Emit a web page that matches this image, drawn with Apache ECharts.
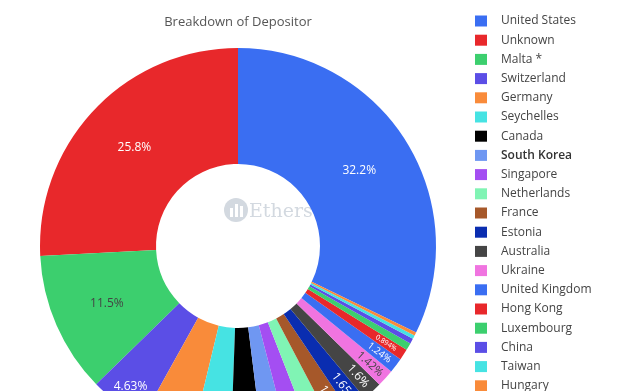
<!DOCTYPE html>
<html><head><meta charset="utf-8">
<script src="https://cdn.jsdelivr.net/npm/echarts@6/dist/echarts.min.js"></script>
<style>html,body{margin:0;padding:0;background:#fff}#c{width:640px;height:391px}</style>
</head><body><div id="c"></div>
<script>
const categories = ['United States','Unknown','Malta *','Switzerland','Germany','Seychelles','Canada','South Korea','Singapore','Netherlands','France','Estonia','Australia','Ukraine','United Kingdom','Hong Kong','Luxembourg','China','Taiwan','Hungary'];
const shares = [32.2,25.8,11.5,4.63,4.3,3.2,2.55,2.1,1.85,1.78,1.7,1.65,1.6,1.42,1.24,0.894,0.6,0.42,0.3,0.266];
const sliceColors = ['#3a6ef2','#e8282b','#3ccf6e','#5b4ee6','#f98b3a','#46e3e3','#000000','#6f97f2','#a44ef2','#80f4b4','#a6582a','#0a2db0','#454545','#f074e0',
                     '#3a6ef2','#e8282b','#3ccf6e','#5b4ee6','#46e3e3','#f98b3a'];
const chartTitle = 'Breakdown of Depositor';
const watermark = 'Etherscan';
const boldLegend = ['South Korea'];

const total = shares.reduce((a,b)=>a+b,0);
const CX=238, CY=246, R0=82, R1=198, LABEL_R=174;
function brightness(hex){
  const n=parseInt(hex.slice(1),16);
  const r=(n>>16)&255,g=(n>>8)&255,b=n&255;
  return (r*299+g*587+b*114)/1000;
}
function pct(v){ return Number((v/total*100).toPrecision(3)) + '%'; }
const colors = categories.map((_,i)=>sliceColors[i%sliceColors.length]);
const textColor = c => brightness(c)>128 ? '#444' : '#fff';
const startAngle = 90 - 360*shares[0]/total;

const mainData = categories.map((name,i)=>({
  name, value: shares[i],
  itemStyle:{color:colors[i]},
  label:{show:i<3, color:textColor(colors[i]), fontSize:12}
}));
const overlayData = categories.map((name,i)=>{
  const arc = shares[i]/total*2*Math.PI*LABEL_R;
  const show = i>=3 && shares[i]>=0.8;
  const radial = arc < 30;
  return {
    name, value: shares[i],
    itemStyle:{color:'rgba(0,0,0,0)'},
    label:{show, color:textColor(colors[i]), rotate: radial ? 'radial' : 0,
      fontSize: Math.min(12, radial ? arc*0.72 : 12)}
  };
});

const chart = echarts.init(document.getElementById('c'));
chart.setOption({
  animation:false,
  backgroundColor:'#fff',
  graphic:[
    {type:'text', x:CX, y:22, style:{text:chartTitle, fill:'#555', font:'13px "Open Sans"', textAlign:'center', textVerticalAlign:'middle'}},
    {type:'circle', shape:{cx:236, cy:210, r:12}, style:{fill:'#d3d9e0'}, z:0},
    {type:'rect', shape:{x:230, y:208, width:3, height:9}, style:{fill:'#fff'}, z:1},
    {type:'rect', shape:{x:235, y:204, width:3, height:13}, style:{fill:'#fff'}, z:1},
    {type:'rect', shape:{x:240, y:206, width:3, height:11}, style:{fill:'#fff'}, z:1},
    {type:'text', x:249, y:212, style:{text:watermark, fill:'#d3d9e0', font:'19px "DejaVu Serif"', textVerticalAlign:'middle'}, z:0}
  ],
  legend:{
    orient:'vertical', left:475, top:15, height:800, padding:0,
    itemWidth:12, itemHeight:11, itemGap:7.2,
    icon:'rect', selectedMode:false, data:categories,
    formatter: name => boldLegend.includes(name) ? '{b|'+name+'}' : name,
    textStyle:{fontFamily:'Open Sans', fontSize:12, color:'#444', lineHeight:12, padding:[0,0,0,9],
      rich:{b:{fontFamily:'Open Sans', fontSize:12, fontWeight:600, color:'#333', lineHeight:12}}}
  },
  series:[
    {type:'pie', center:[CX,CY], radius:[R0,R1], clockwise:false, startAngle,
     data:mainData, label:{position:'inside', formatter:p=>pct(p.value), fontFamily:'Open Sans'},
     labelLine:{show:false}, emphasis:{disabled:true}, silent:true, z:2},
    {type:'pie', center:[CX,CY], radius:[150,R1], clockwise:false, startAngle,
     data:overlayData, label:{position:'inside', formatter:p=>pct(p.value), fontFamily:'Open Sans'},
     labelLine:{show:false}, emphasis:{disabled:true}, silent:true, z:3}
  ]
});
</script></body></html>
